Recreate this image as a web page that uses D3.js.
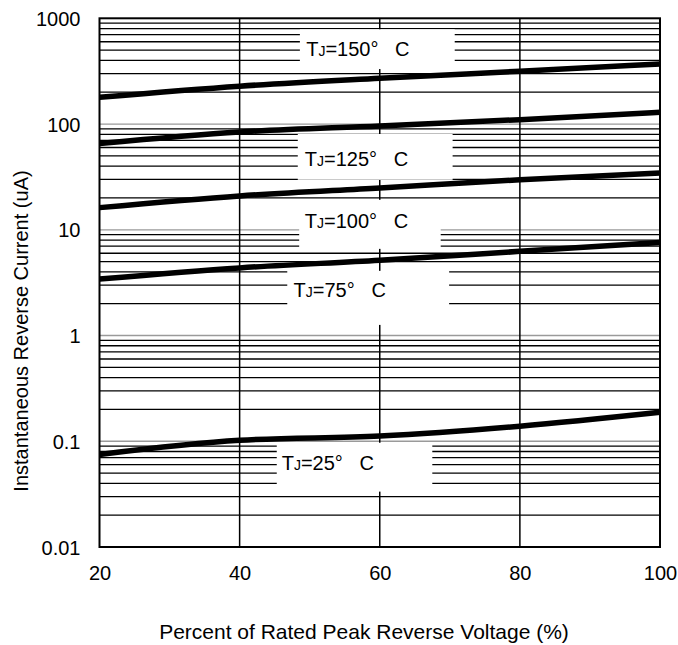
<!doctype html>
<html>
<head>
<style>
  body { margin: 0; background: #fff; }
  text { font-family: "Liberation Sans", Arial, sans-serif; fill: #000; }
  .minor { stroke: #000; stroke-width: 1.3; }
  .major { stroke: #9a9a9a; stroke-width: 1.3; }
  .vgrid { stroke: #000; stroke-width: 1.5; }
  .curve { fill: none; stroke: #000; stroke-width: 5.5; }
</style>
<script src="https://d3js.org/d3.v7.min.js"></script>
</head>
<body>
<svg width="678" height="645"></svg>
<script>
// data
var voltage = [20, 40, 60, 80, 100];
var temps = ["150", "125", "100", "75", "25"];
var current150 = [179, 228, 271, 316, 370];
var current125 = [65.3, 84, 96, 110, 129];
var current100 = [16.2, 20.9, 24.9, 29.7, 34.4];
var current75 = [3.42, 4.36, 5.15, 6.25, 7.6];
var current25 = [0.075, 0.102, 0.112, 0.139, 0.188];
var xTicks = [20, 40, 60, 80, 100];
var yTicks = [0.01, 0.1, 1, 10, 100, 1000];
var yTickLabels = ["0.01", "0.1", "1", "10", "100", "1000"];

var series = [current150, current125, current100, current75, current25];

var svg = d3.select("svg");
var plotLeft = 99.5, plotRight = 660, plotTop = 18.3, plotBottom = 547;

var x = d3.scaleLinear().domain([20, 100]).range([plotLeft, plotRight]);
var y = d3.scaleLog().domain([0.01, 1000]).range([plotBottom, plotTop]);

// minor grid 2..9 in each decade, decade lines grey
var minor = [];
for (var e = -2; e < 3; e++) {
    for (var m = 2; m <= 9; m++) minor.push(m * Math.pow(10, e));
}

var grid = svg.append("g");
grid.selectAll(".minor").data(minor).enter().append("line")
    .attr("class", "minor")
    .attr("x1", plotLeft).attr("x2", plotRight)
    .attr("y1", function(d) { return y(d); })
    .attr("y2", function(d) { return y(d); });
grid.selectAll(".major").data(yTicks.slice(1, -1)).enter().append("line")
    .attr("class", "major")
    .attr("x1", plotLeft).attr("x2", plotRight)
    .attr("y1", function(d) { return y(d); })
    .attr("y2", function(d) { return y(d); });
grid.selectAll(".vgrid").data(xTicks.slice(1, -1)).enter().append("line")
    .attr("class", "vgrid")
    .attr("y1", plotTop).attr("y2", plotBottom)
    .attr("x1", function(d) { return x(d); })
    .attr("x2", function(d) { return x(d); });

// label boxes (in data units: percent / uA)
var labelSpots = [
    { x0: 48.6, x1: 70.7, yTop: 787, yBot: 331, tx: 49.5, ty: 440 },
    { x0: 48.3, x1: 70.4, yTop: 80.5, yBot: 29.7, tx: 49.3, ty: 40.2 },
    { x0: 48.5, x1: 68.7, yTop: 19.2, yBot: 6.6, tx: 49.3, ty: 10.4 },
    { x0: 46.8, x1: 69.9, yTop: 4.09, yBot: 1.26, tx: 47.7, ty: 2.32 },
    { x0: 45.3, x1: 67.5, yTop: 0.0968, yBot: 0.0334, tx: 46.0, ty: 0.0538 }
];

var labels = svg.append("g").selectAll("g").data(temps).enter().append("g");
labels.append("rect")
    .attr("fill", "#fff")
    .attr("x", function(d, i) { return x(labelSpots[i].x0); })
    .attr("width", function(d, i) { return x(labelSpots[i].x1) - x(labelSpots[i].x0); })
    .attr("y", function(d, i) { return y(labelSpots[i].yTop); })
    .attr("height", function(d, i) { return y(labelSpots[i].yBot) - y(labelSpots[i].yTop); });
var lt = labels.append("text")
    .attr("x", function(d, i) { return x(labelSpots[i].tx); })
    .attr("y", function(d, i) { return y(labelSpots[i].ty); })
    .style("font-size", "20px");
lt.append("tspan").text("T");
lt.append("tspan").style("font-size", "14px").text("J");
lt.append("tspan").text(function(d) { return "=" + d + "\u00b0\u00a0\u00a0\u00a0C"; });

// curves
var line = d3.line()
    .x(function(d, i) { return x(voltage[i]); })
    .y(function(d) { return y(d); })
    .curve(d3.curveMonotoneX);

svg.append("g").selectAll("path").data(series).enter().append("path")
    .attr("class", "curve")
    .attr("d", line);

// frame
svg.append("rect")
    .attr("x", plotLeft).attr("y", plotTop)
    .attr("width", plotRight - plotLeft).attr("height", plotBottom - plotTop)
    .attr("fill", "none").attr("stroke", "#000").attr("stroke-width", 2);

// axes
var yAxis = svg.append("g")
    .attr("transform", "translate(" + plotLeft + ",0)")
    .call(d3.axisLeft(y).tickValues(yTicks).tickSize(0).tickPadding(19)
        .tickFormat(function(d, i) { return yTickLabels[i]; }));
yAxis.select(".domain").remove();
yAxis.selectAll("text").style("font-size", "20px")
    .attr("font-family", null).attr("dy", "0.36em");

var xAxis = svg.append("g")
    .attr("transform", "translate(0," + plotBottom + ")")
    .call(d3.axisBottom(x).tickValues(xTicks).tickSize(0).tickPadding(19));
xAxis.select(".domain").remove();
xAxis.selectAll("text").style("font-size", "20px")
    .attr("font-family", null).attr("dy", "0.71em");

svg.append("text")
    .attr("x", 364).attr("y", 639)
    .attr("text-anchor", "middle")
    .style("font-size", "21px")
    .text("Percent of Rated Peak Reverse Voltage (%)");

svg.append("text")
    .attr("transform", "translate(28,331) rotate(-90)")
    .attr("text-anchor", "middle")
    .style("font-size", "20px")
    .text("Instantaneous Reverse Current (uA)");
</script>
</body>
</html>
